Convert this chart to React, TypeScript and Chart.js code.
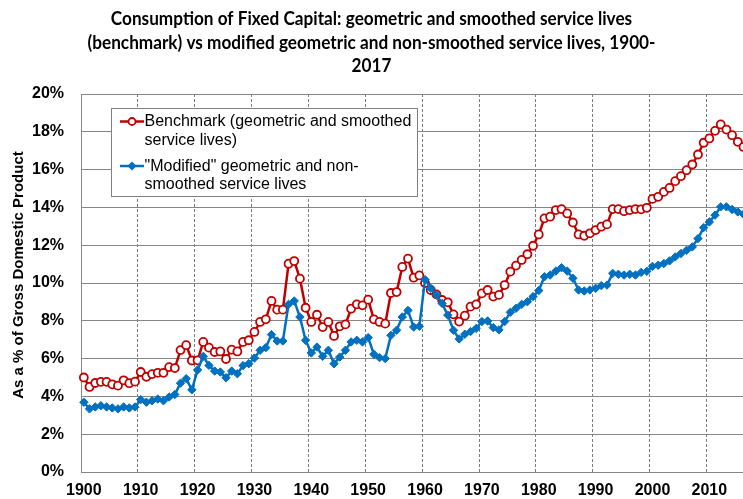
import React, { useEffect, useRef } from "react";
import { Chart, registerables } from "chart.js";

Chart.register(...registerables);

// ---------- data ----------
const years: string[] = Array.from({ length: 118 }, (_, i) => String(1900 + i));

const benchmark: number[] = [
  5.0, 4.5, 4.71, 4.77, 4.77, 4.64, 4.57, 4.85, 4.7, 4.78,
  5.29, 5.04, 5.18, 5.25, 5.25, 5.55, 5.5, 6.45, 6.71, 5.9,
  5.91, 6.88, 6.58, 6.35, 6.38, 5.98, 6.47, 6.38, 6.88, 6.97,
  7.41, 7.94, 8.08, 9.05, 8.59, 8.59, 11.02, 11.16, 10.23, 8.69,
  7.94, 8.32, 7.67, 7.94, 7.2, 7.71, 7.81, 8.64, 8.87, 8.82,
  9.12, 8.08, 7.94, 7.85, 9.47, 9.52, 10.85, 11.29, 10.28, 10.4,
  10.0, 9.63, 9.4, 9.1, 8.98, 8.34, 7.96, 8.27, 8.75, 8.87,
  9.45, 9.63, 9.28, 9.37, 9.89, 10.6, 10.92, 11.22, 11.52, 11.97,
  12.57, 13.42, 13.51, 13.86, 13.91, 13.68, 13.2, 12.57, 12.5, 12.63,
  12.8, 12.98, 13.1, 13.91, 13.91, 13.8, 13.86, 13.91, 13.9, 13.98,
  14.45, 14.56, 14.82, 15.03, 15.39, 15.65, 15.97, 16.27, 16.8, 17.42,
  17.65, 18.05, 18.39, 18.12, 17.82, 17.47, 17.2, 17.0,
];

const modified: number[] = [
  3.69, 3.34, 3.44, 3.51, 3.44, 3.39, 3.34, 3.44, 3.39, 3.44,
  3.83, 3.69, 3.77, 3.86, 3.77, 3.97, 4.1, 4.7, 4.94, 4.35,
  5.4, 6.12, 5.64, 5.34, 5.29, 4.99, 5.34, 5.2, 5.63, 5.73,
  6.03, 6.44, 6.58, 7.27, 6.93, 6.93, 8.87, 9.05, 8.2, 6.97,
  6.3, 6.61, 6.12, 6.44, 5.73, 6.08, 6.44, 6.88, 6.97, 6.88,
  7.11, 6.23, 6.05, 6.0, 7.23, 7.5, 8.2, 8.55, 7.67, 7.71,
  10.18, 9.72, 9.37, 8.92, 8.3, 7.5, 7.04, 7.29, 7.43, 7.6,
  7.96, 7.99, 7.64, 7.52, 7.96, 8.45, 8.66, 8.87, 9.01, 9.28,
  9.6, 10.33, 10.42, 10.63, 10.81, 10.63, 10.25, 9.63, 9.58, 9.63,
  9.72, 9.86, 9.89, 10.51, 10.46, 10.42, 10.46, 10.42, 10.56, 10.62,
  10.88, 10.94, 11.03, 11.17, 11.38, 11.56, 11.73, 11.91, 12.35, 12.93,
  13.23, 13.59, 14.03, 14.03, 13.89, 13.76, 13.64, 13.6,
];

const titleLines: string[] = [
  "Consumption of Fixed Capital: geometric and smoothed service lives",
  "(benchmark) vs modified geometric and non-smoothed service lives, 1900-",
  "2017",
];
const benchmarkLegend: string[] = ["Benchmark (geometric and smoothed", "service lives)"];
const modifiedLegend: string[] = ['"Modified" geometric and non-', "smoothed service lives"];
const yAxisTitle = "As a % of Gross Domestic Product";

const RED = "#C00000";
const BLUE = "#0070C0";
const FONT = '"Liberation Sans", Arial, sans-serif';

const overlayPlugin = {
  id: "overlay",
  afterDraw(chart: any) {
    const ctx: CanvasRenderingContext2D = chart.ctx;
    ctx.save();
    // Title
    ctx.fillStyle = "#000";
    ctx.font = 'bold 18px Lato, "Open Sans", sans-serif';
    const w2 = ctx.measureText(titleLines[1]).width;
    const sx = 568 / w2;
    const ty = [19, 43, 66];
    titleLines.forEach((t, i) => {
      ctx.save();
      ctx.translate(371.5, ty[i]);
      ctx.scale(sx, 1);
      ctx.textAlign = "center";
      ctx.textBaseline = "middle";
      ctx.fillText(t, 0, 0);
      ctx.restore();
    });

    // Y axis title
    ctx.save();
    ctx.translate(19, 275);
    ctx.rotate(-Math.PI / 2);
    ctx.font = "bold 15px " + FONT;
    ctx.textAlign = "center";
    ctx.textBaseline = "middle";
    ctx.fillText(yAxisTitle, 0, 0);
    ctx.restore();

    // Legend
    ctx.fillStyle = "#fff";
    ctx.fillRect(111.5, 108.5, 306, 88);
    ctx.strokeStyle = "#808080";
    ctx.lineWidth = 1;
    ctx.strokeRect(111.5, 108.5, 306, 88);

    // red symbol
    ctx.strokeStyle = RED;
    ctx.lineWidth = 2.5;
    ctx.beginPath();
    ctx.moveTo(120, 121.5);
    ctx.lineTo(144, 121.5);
    ctx.stroke();
    ctx.beginPath();
    ctx.arc(132, 121.5, 3.5, 0, Math.PI * 2);
    ctx.fillStyle = "#fff";
    ctx.fill();
    ctx.lineWidth = 1.8;
    ctx.stroke();

    // blue symbol
    ctx.strokeStyle = BLUE;
    ctx.lineWidth = 2.5;
    ctx.beginPath();
    ctx.moveTo(120, 166);
    ctx.lineTo(144, 166);
    ctx.stroke();
    ctx.fillStyle = BLUE;
    ctx.beginPath();
    ctx.moveTo(132 - 4.5, 166);
    ctx.lineTo(132, 166 - 4.5);
    ctx.lineTo(132 + 4.5, 166);
    ctx.lineTo(132, 166 + 4.5);
    ctx.closePath();
    ctx.fill();

    ctx.fillStyle = "#000";
    ctx.font = "16px " + FONT;
    ctx.textAlign = "left";
    ctx.textBaseline = "middle";
    ctx.fillText(benchmarkLegend[0], 144.5, 122);
    ctx.fillText(benchmarkLegend[1], 144.5, 140.5);
    ctx.fillText(modifiedLegend[0], 144.5, 166.5);
    ctx.fillText(modifiedLegend[1], 144.5, 185);

    ctx.restore();
  },
};

export default function App() {
  const ref = useRef<HTMLCanvasElement | null>(null);

  useEffect(() => {
    if (!ref.current) return;
    Chart.defaults.font.family = FONT;
    const chart = new Chart(ref.current, {
      type: "line",
      data: {
        labels: years,
        datasets: [
          {
            label: benchmarkLegend.join(" "),
            data: benchmark,
            borderColor: RED,
            backgroundColor: RED,
            borderWidth: 2.5,
            pointStyle: "circle",
            pointRadius: 4,
            pointBorderWidth: 1.8,
            pointBackgroundColor: "#ffffff",
            pointBorderColor: RED,
            tension: 0,
            order: 2,
          },
          {
            label: modifiedLegend.join(" "),
            data: modified,
            borderColor: BLUE,
            backgroundColor: BLUE,
            borderWidth: 2.5,
            pointStyle: "rectRot",
            pointRadius: 4.2,
            pointBorderWidth: 1,
            pointBackgroundColor: BLUE,
            pointBorderColor: BLUE,
            tension: 0,
            order: 1,
          },
        ],
      },
      options: {
        responsive: false,
        animation: false,
        events: [],
        layout: { padding: { top: 94, right: 8, left: 0, bottom: 0 } },
        plugins: {
          legend: { display: false },
          title: { display: false },
          tooltip: { enabled: false },
        },
        scales: {
          x: {
            type: "category",
            offset: true,
            grid: {
              offset: true,
              drawTicks: false,
              lineWidth: 1,
              color: (c: any) =>
                c.index > 0 && c.index % 10 === 0 ? "#7a7a7a" : "rgba(0,0,0,0)",
            },
            border: { display: true, color: "#868686", width: 1, dash: [3, 2] },
            ticks: {
              autoSkip: false,
              maxRotation: 0,
              minRotation: 0,
              padding: 9,
              color: "#000",
              font: { size: 16, weight: "bold" },
              callback: function (this: any, v: any) {
                const lab = this.getLabelForValue(v);
                return Number(lab) % 10 === 0 ? lab : "";
              },
            },
            afterFit: (s: any) => {
              s.height = 27;
            },
          },
          y: {
            min: 0,
            max: 20,
            grid: { color: "#868686", drawTicks: false, lineWidth: 1 },
            border: { display: true, color: "#868686", width: 1 },
            ticks: {
              stepSize: 2,
              padding: 17,
              color: "#000",
              font: { size: 16, weight: "bold" },
              callback: (v: any) => v + "%",
            },
            afterFit: (s: any) => {
              s.width = 81;
            },
          },
        },
      },
      plugins: [overlayPlugin],
    });
    return () => chart.destroy();
  }, []);

  return (
    <div
      style={{
        position: "fixed",
        left: 0,
        top: 0,
        width: 743,
        height: 499,
        overflow: "hidden",
        background: "#fff",
      }}
    >
      <canvas ref={ref} width={760} height={499} style={{ display: "block" }} />
    </div>
  );
}
